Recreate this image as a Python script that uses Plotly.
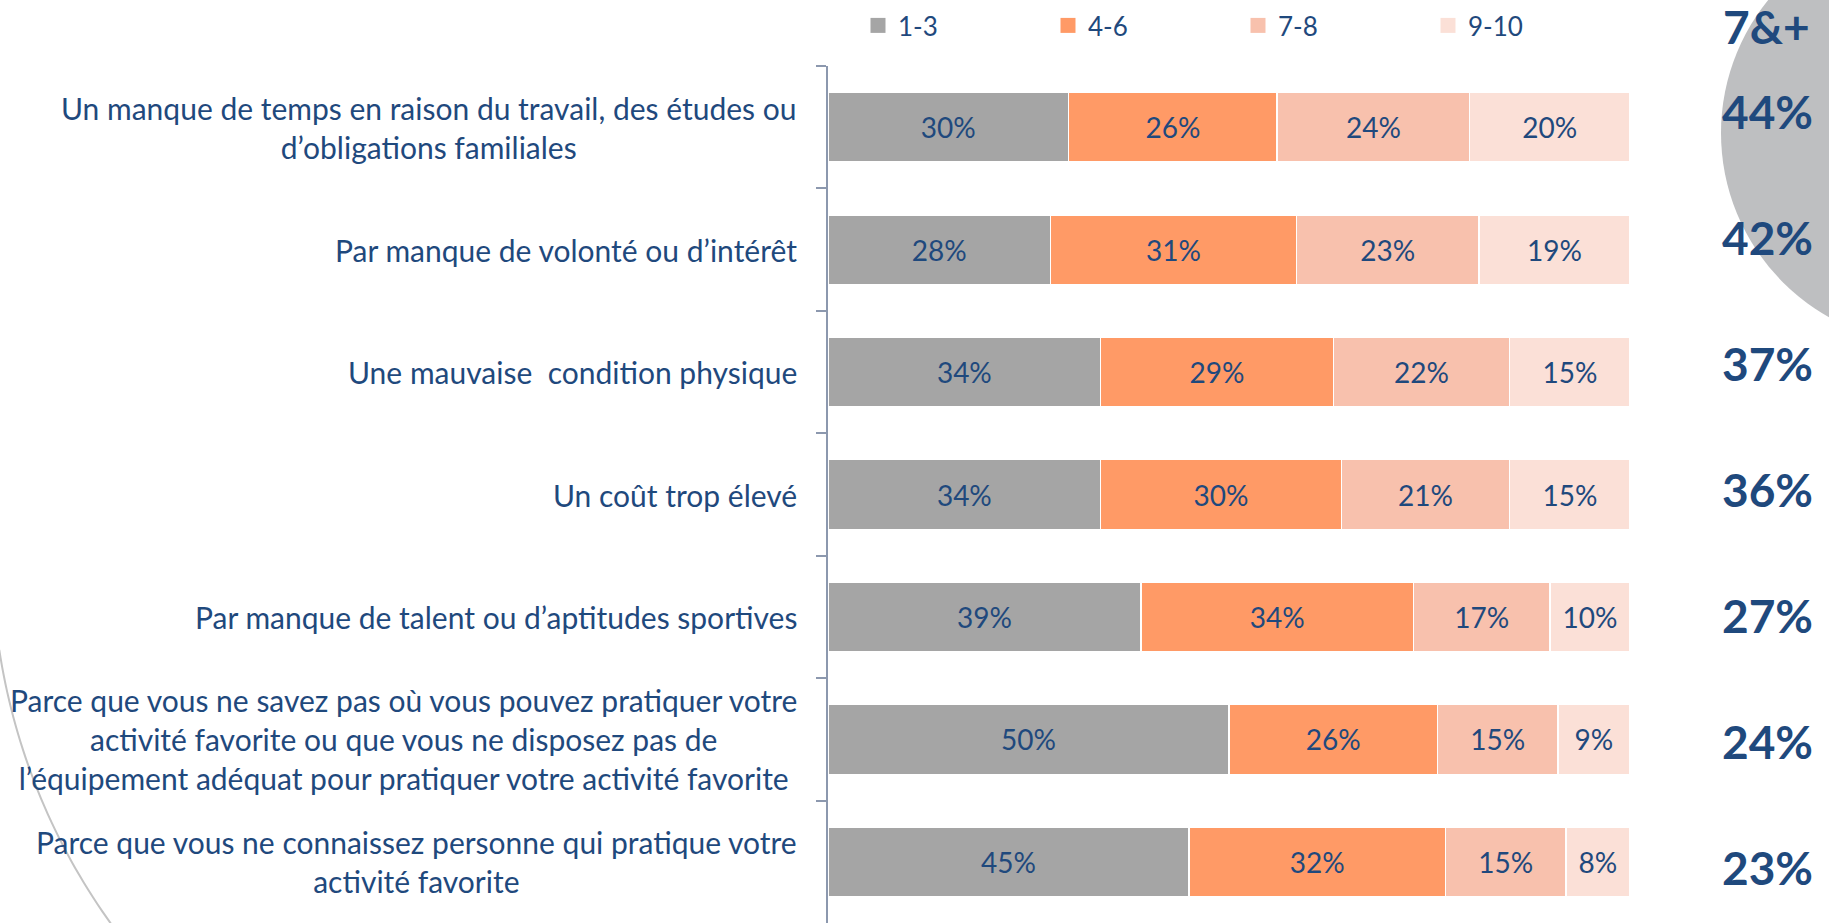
import numpy as np
import plotly.graph_objects as go

W, H = 1829, 923

# ---------------- data ----------------
categories = [
    "Un manque de temps en raison du travail, des études ou<br>d’obligations familiales",
    "Par manque de volonté ou d’intérêt",
    "Une mauvaise  condition physique",
    "Un coût trop élevé",
    "Par manque de talent ou d’aptitudes sportives",
    "Parce que vous ne savez pas où vous pouvez pratiquer votre<br>activité favorite ou que vous ne disposez pas de<br>l’équipement adéquat pour pratiquer votre activité favorite",
    "Parce que vous ne connaissez personne qui pratique votre<br>activité favorite",
]
series_names = ["1-3", "4-6", "7-8", "9-10"]
v_1_3 = [30, 28, 34, 34, 39, 50, 45]
v_4_6 = [26, 31, 29, 30, 34, 26, 32]
v_7_8 = [24, 23, 22, 21, 17, 15, 15]
v_9_10 = [20, 19, 15, 15, 10, 9, 8]
top_box_header = "7&+"
top_box = [44, 42, 37, 36, 27, 24, 23]

# ---------------- style ----------------
colors = ["#A5A5A5", "#FF9A66", "#F8C1AD", "#FBE0D7"]
text_blue = "#1F497D"
font_family = "Lato, 'Open Sans', sans-serif"


def px(x):
    return x / W


def py(y):
    return 1 - y / H


fig = go.Figure()
for name, vals, col in zip(series_names, [v_1_3, v_4_6, v_7_8, v_9_10], colors):
    fig.add_trace(go.Bar(
        name=name,
        legendgroup=name,
        showlegend=False,
        y=categories,
        x=vals,
        orientation="h",
        marker=dict(color=col, line=dict(color="white", width=1.5)),
        text=[f"{v}%" for v in vals],
        textposition="inside",
        insidetextanchor="middle",
        textangle=0,
        constraintext="none",
        textfont=dict(family=font_family, size=28, color=text_blue),
        hoverinfo="skip",
    ))
# legend entries with larger square swatches
for name, col in zip(series_names, colors):
    fig.add_trace(go.Scatter(
        name=name, legendgroup=name, x=[None], y=[None], mode="markers",
        marker=dict(symbol="square", size=15, color=col),
        hoverinfo="skip",
    ))

annotations = []
# category labels (centered lines, right-aligned block)
for cat in categories:
    annotations.append(dict(
        xref="paper", yref="y", x=px(799), y=cat,
        xanchor="right", yanchor="middle", align="center",
        text=cat, showarrow=False,
        font=dict(family=font_family, size=30, color=text_blue),
    ))
# right column header and values
annotations.append(dict(
    xref="paper", yref="paper", x=px(1766), y=py(27),
    xanchor="center", yanchor="middle", text=f"<b>{top_box_header}</b>",
    showarrow=False, font=dict(family=font_family, size=46, color=text_blue),
))
for i, (cat, v) in enumerate(zip(categories, top_box)):
    annotations.append(dict(
        xref="paper", yref="y", x=px(1767), y=cat,
        xanchor="center", yanchor="middle", text=f"<b>{v}%</b>",
        yshift=16 - 3.6 * i,
        showarrow=False, font=dict(family=font_family, size=46, color=text_blue),
    ))

# decorative shapes
cx, cy, r = 1932, 133, 211
shapes = [dict(
    type="circle", xref="paper", yref="paper",
    x0=px(cx - r), x1=px(cx + r), y0=py(cy + r), y1=py(cy - r),
    fillcolor="#BEBFC1", line=dict(width=0), layer="below",
)]
acx, acy, ar = 626, 554, 634
theta = np.radians(np.linspace(171.3, 141, 40))
ax_pts = acx + ar * np.cos(theta)
ay_pts = acy + ar * np.sin(theta)
path = "M" + " L".join(f"{px(x):.5f},{py(y):.5f}" for x, y in zip(ax_pts, ay_pts))
shapes.append(dict(
    type="path", xref="paper", yref="paper", path=path,
    line=dict(color="#C4C4C4", width=2), layer="below",
))

fig.update_layout(
    width=W, height=H,
    margin=dict(l=0, r=0, t=0, b=0),
    paper_bgcolor="white", plot_bgcolor="white",
    barmode="stack", barnorm="percent", bargap=0.43,
    showlegend=True,
    legend=dict(
        orientation="h", x=px(858), y=py(2), xanchor="left", yanchor="top",
        font=dict(family=font_family, size=26, color=text_blue),
        entrywidth=145, entrywidthmode="pixels",
        bgcolor="rgba(0,0,0,0)", traceorder="normal",
    ),
    xaxis=dict(domain=[px(828), px(1630)], range=[0, 100], visible=False, fixedrange=True),
    yaxis=dict(
        domain=[0, py(66)], autorange="reversed",
        showticklabels=False, showgrid=False, zeroline=False,
        showline=True, linecolor="#8C98AE", linewidth=2,
        ticks="outside", tickson="boundaries", ticklen=10,
        tickcolor="#8C98AE", tickwidth=2, fixedrange=True,
    ),
    annotations=annotations,
    shapes=shapes,
)

fig.write_html(
    "out.html",
    config={"displayModeBar": False},
    post_script="document.body.style.margin='0';document.body.style.overflow='hidden';",
)
